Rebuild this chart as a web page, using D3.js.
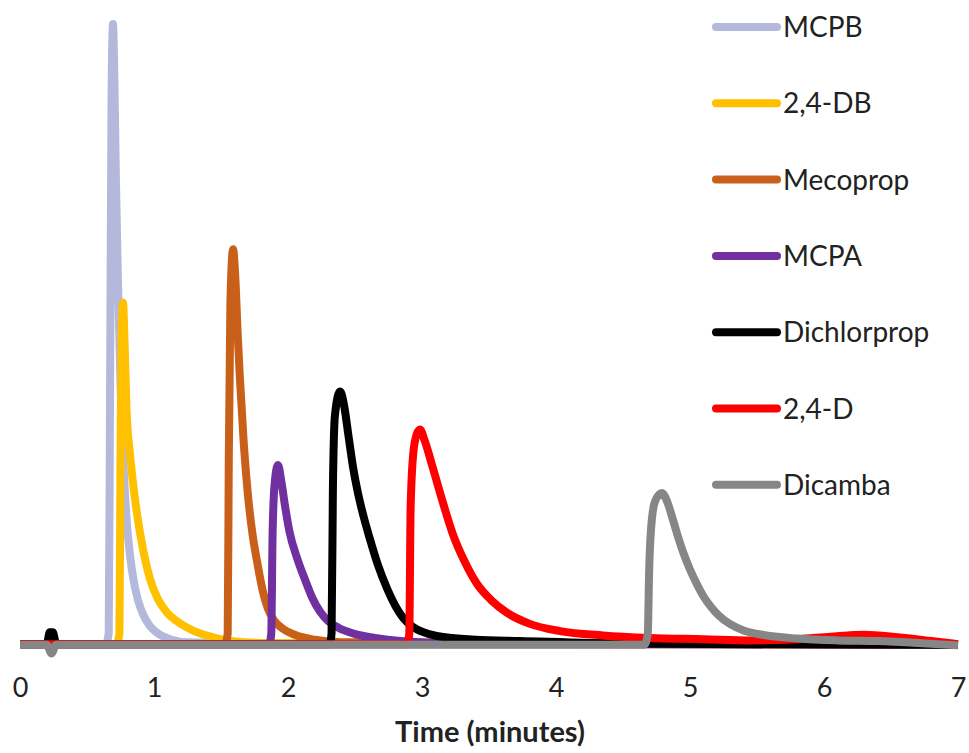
<!DOCTYPE html>
<html>
<head>
<meta charset="utf-8">
<script src="https://cdn.jsdelivr.net/npm/d3@7"></script>
<style>
  html, body { margin: 0; padding: 0; background: #fff; }
  svg { display: block; }
  text { font-family: Lato, "Open Sans", sans-serif; fill: #222; }
</style>
</head>
<body>
<svg id="chart" width="969" height="753"></svg>
<script>
// ---- Data (time in minutes, response in arbitrary units) ----
const seriesNames = ["MCPB", "2,4-DB", "Mecoprop", "MCPA", "Dichlorprop", "2,4-D", "Dicamba"];
const seriesColors = ["#b4b9db", "#ffc000", "#c8601a", "#7030a0", "#000000", "#ff0000", "#868686"];
const xTickValues = [0, 1, 2, 3, 4, 5, 6, 7];
const xTitle = "Time (minutes)";

const mcpbData = [[0,0.3],[0.64,0.3],[0.662,2],[0.672,40],[0.683,88],[0.694,100],[0.703,93],[0.715,76],[0.731,58.8],[0.75,42],[0.77,30],[0.795,20.5],[0.82,14.8],[0.85,10.3],[0.88,7.4],[0.92,5],[0.97,3.2],[1.03,2.0],[1.12,1.1],[1.25,0.6],[2,0.3],[7,0.2]];
const db24Data = [[0,0.3],[0.72,0.3],[0.742,2],[0.75,30],[0.758,50],[0.769,55.2],[0.78,49],[0.795,38],[0.82,31],[0.85,25],[0.873,21.3],[0.92,15.3],[0.97,10.8],[1.03,7.5],[1.1,5.3],[1.17,4.0],[1.3,2.4],[1.44,1.4],[1.57,0.8],[1.8,0.5],[7,0.2]];
const mecopropData = [[0,0.3],[1.53,0.3],[1.55,2],[1.558,30],[1.57,55],[1.59,63.8],[1.605,60],[1.625,50],[1.64,43.5],[1.67,32.5],[1.70,24.5],[1.735,18],[1.77,13.5],[1.81,9],[1.85,6],[1.9,4],[1.96,2.8],[2.05,1.8],[2.2,1.0],[2.4,0.6],[7,0.2]];
const mcpaData = [[0,0.3],[1.86,0.3],[1.875,2],[1.885,18],[1.9,26],[1.925,29.1],[1.95,26.5],[1.98,22.2],[2.01,18.5],[2.07,14],[2.13,10.5],[2.18,7.8],[2.24,5.5],[2.30,4.0],[2.38,2.9],[2.49,2.0],[2.65,1.3],[2.84,0.8],[3.3,0.4],[7,0.2]];
const dichlorpropData = [[0,0.3],[0.2,0.3],[0.222,2.2],[0.245,2.2],[0.27,0.3],[2.31,0.3],[2.325,2],[2.335,25],[2.35,37],[2.388,40.9],[2.40,40.5],[2.42,38.5],[2.45,34],[2.485,28.8],[2.52,24.8],[2.55,22],[2.61,17.3],[2.67,13.1],[2.74,9.2],[2.80,6.5],[2.86,4.5],[2.93,3.1],[3.0,2.3],[3.11,1.6],[3.4,1.0],[3.73,0.8],[4.5,0.4],[7,0.2]];
const d24Data = [[0,0.3],[2.89,0.3],[2.905,2],[2.915,22],[2.935,31],[2.96,34],[2.985,34.8],[3.02,33],[3.08,28.7],[3.15,23.5],[3.23,18],[3.32,13.5],[3.41,10],[3.52,7.3],[3.63,5.4],[3.8,3.6],[4.03,2.4],[4.35,1.7],[4.7,1.3],[5.1,1.1],[5.45,0.9],[5.8,1.1],[6.05,1.5],[6.3,1.8],[6.55,1.4],[6.8,0.8],[7,0.3]];
const dicambaData = [[0,0.2],[0.2,0.2],[0.235,-1.2],[0.27,0.2],[4.66,0.2],[4.685,2],[4.695,12],[4.71,19],[4.74,23.3],[4.79,24.6],[4.83,23.2],[4.87,20.5],[4.9,18.3],[4.95,15],[5.0,12.3],[5.05,10.0],[5.1,8.0],[5.16,6.2],[5.22,4.8],[5.3,3.5],[5.4,2.5],[5.54,1.8],[5.8,1.2],[6.1,0.9],[6.4,0.8],[6.7,0.5],[7,0.1]];

const seriesData = [mcpbData, db24Data, mecopropData, mcpaData, dichlorpropData, d24Data, dicambaData];

// ---- Layout ----
const svg = d3.select("#chart");
const x = d3.scaleLinear().domain([0, 7]).range([20, 958]);
const y = d3.scaleLinear().domain([0, 100]).range([646, 24]);

const line = d3.line()
  .x(d => x(d[0]))
  .y(d => y(d[1]))
  .curve(d3.curveMonotoneX);

const gLines = svg.append("g");
seriesData.forEach((data, i) => {
  gLines.append("path")
    .datum(data)
    .attr("d", line)
    .attr("fill", "none")
    .attr("stroke", seriesColors[i])
    .attr("stroke-width", 8)
    .attr("stroke-linejoin", "round")
    .attr("stroke-linecap", "butt");
});

// ---- X axis (labels only) ----
const xAxis = d3.axisBottom(x).tickValues(xTickValues).tickSize(0).tickPadding(0).tickFormat(d3.format("d"));
const gx = svg.append("g").call(xAxis);
gx.select(".domain").remove();
gx.selectAll("text")
  .attr("y", 697)
  .attr("dy", null)
  .style("font-family", "Lato, 'Open Sans', sans-serif")
  .style("font-size", "27px")
  .attr("fill", "#222");

svg.append("text")
  .attr("x", 490)
  .attr("y", 742)
  .attr("text-anchor", "middle")
  .style("font-size", "29px")
  .style("font-weight", "bold")
  .text(xTitle);

// ---- Legend ----
const legend = svg.append("g");
seriesNames.forEach((name, i) => {
  const cy = 27 + i * 76.3;
  legend.append("line")
    .attr("x1", 716).attr("x2", 777)
    .attr("y1", cy).attr("y2", cy)
    .attr("stroke", seriesColors[i])
    .attr("stroke-width", 8)
    .attr("stroke-linecap", "round");
  legend.append("text")
    .attr("x", 783)
    .attr("y", cy + 10)
    .style("font-size", "28px")
    .text(name);
});
</script>
</body>
</html>
